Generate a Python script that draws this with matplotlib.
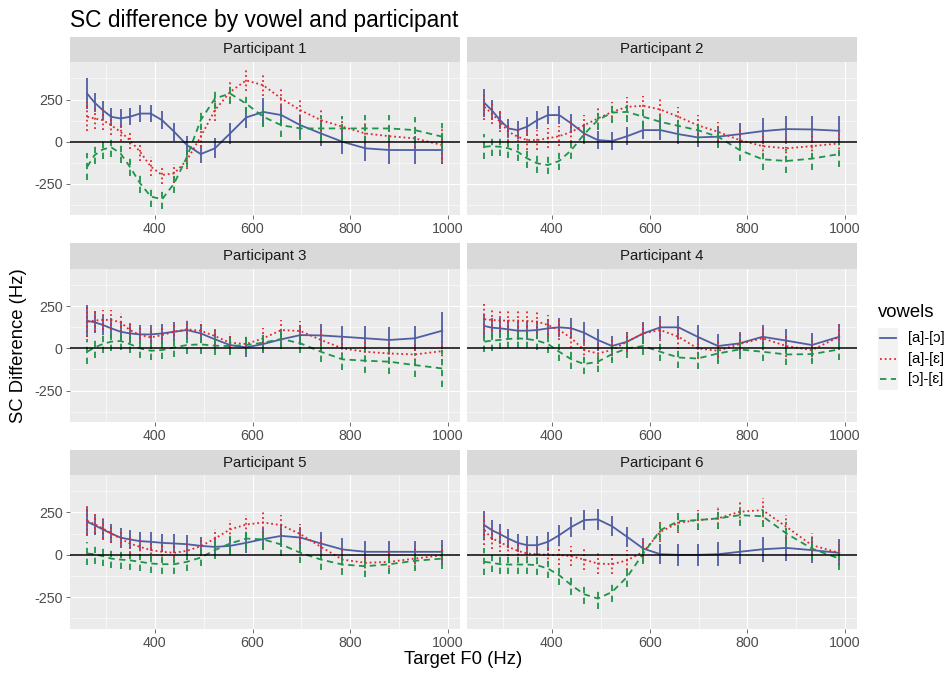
import matplotlib
matplotlib.use("Agg")
import matplotlib.pyplot as plt
from matplotlib.lines import Line2D
import numpy as np

plt.rcParams['font.family'] = ['Liberation Sans', 'DejaVu Sans']

# ---------------- data ----------------
f0 = [262, 277, 294, 311, 330, 349, 370, 392, 415, 440, 466, 494,
      523, 554, 587, 622, 659, 698, 740, 784, 831, 880, 932, 988]

series_labels = ["[a]-[ɔ]", "[a]-[ɛ]", "[ɔ]-[ɛ]"]
panel_titles = ["Participant 1", "Participant 2", "Participant 3",
                "Participant 4", "Participant 5", "Participant 6"]

# Participant 1
p1_ao = [285, 232, 187, 148, 138, 148, 167, 167, 128, 59, -20, -73,
         -39, 49, 144, 177, 158, 98, 49, 0, -39, -49, -49, -49]
p1_ae = [148, 138, 128, 98, 59, 10, -59, -148, -197, -187, -108, 30,
         187, 295, 364, 335, 256, 187, 128, 89, 49, 33, 20, -20]
p1_oe = [-148, -79, -45, -33, -69, -148, -246, -325, -341, -246, -89, 128,
         256, 286, 226, 148, 98, 79, 79, 79, 79, 79, 69, 30]
p1_ao_err = [90, 55, 55, 55, 55, 50, 50, 50, 55, 55, 55, 55, 60, 60, 60, 85, 60, 60, 75, 75, 75, 80, 85, 85]
p1_ae_err = [85, 60, 60, 60, 55, 55, 55, 55, 55, 55, 55, 60, 65, 65, 65, 65, 65, 65, 65, 60, 60, 60, 60, 110]
p1_oe_err = [80, 55, 55, 55, 55, 55, 60, 60, 60, 60, 60, 60, 60, 60, 60, 60, 70, 70, 75, 75, 80, 80, 80, 80]

# Participant 2
p2_ao = [230, 187, 128, 79, 69, 89, 128, 158, 158, 108, 49, 10,
         4, 33, 69, 69, 45, 26, 30, 45, 63, 75, 73, 65]
p2_ae = [207, 167, 118, 59, 30, 10, 10, 20, 33, 59, 98, 138,
         177, 207, 213, 191, 148, 98, 59, 10, -26, -39, -26, -10]
p2_oe = [-30, -26, -30, -39, -59, -98, -128, -138, -114, -49, 45, 128,
         173, 177, 148, 118, 94, 69, 30, -49, -104, -114, -100, -73]
p2_ao_err = [85, 60, 55, 55, 55, 55, 55, 55, 55, 55, 55, 55, 55, 55, 55, 60, 60, 60, 60, 65, 75, 75, 80, 85]
p2_ae_err = [80, 60, 60, 55, 55, 60, 60, 60, 60, 60, 60, 60, 60, 60, 60, 60, 60, 60, 60, 60, 60, 60, 60, 60]
p2_oe_err = [75, 60, 55, 55, 55, 55, 55, 55, 55, 55, 60, 60, 60, 60, 60, 60, 65, 65, 65, 65, 65, 70, 70, 75]

# Participant 3
p3_ao = [163, 155, 139, 119, 99, 89, 83, 83, 89, 99, 109, 89,
         54, 20, 6, 26, 54, 79, 77, 69, 60, 50, 60, 105]
p3_ae = [159, 165, 169, 169, 155, 109, 79, 65, 79, 99, 113, 105,
         73, 34, 26, 60, 109, 103, 50, 0, -20, -30, -36, -16]
p3_oe = [-20, 6, 26, 40, 44, 26, 0, -14, -10, 6, 20, 24,
         16, 14, 20, 34, 56, 30, -20, -65, -73, -79, -99, -119]
p3_ao_err = [95, 65, 60, 60, 55, 55, 55, 55, 55, 55, 55, 55, 55, 55, 55, 55, 55, 60, 65, 65, 70, 75, 75, 110]
p3_ae_err = [90, 65, 60, 60, 55, 55, 55, 55, 55, 55, 55, 55, 55, 55, 55, 60, 60, 60, 60, 60, 60, 60, 60, 60]
p3_oe_err = [75, 60, 55, 55, 55, 55, 55, 55, 55, 55, 55, 55, 55, 55, 55, 55, 60, 60, 60, 65, 70, 70, 70, 110]

# Participant 4
p4_ao = [133, 123, 119, 113, 105, 105, 109, 119, 125, 119, 93, 50,
         14, 40, 89, 125, 125, 69, 14, 30, 69, 46, 20, 69]
p4_ae = [173, 169, 165, 165, 165, 163, 159, 139, 109, 60, -10, -30,
         -10, 40, 89, 109, 69, 0, -14, 26, 60, 14, -10, 69]
p4_oe = [40, 46, 50, 56, 60, 56, 46, 26, -20, -65, -93, -79,
         -34, 0, 14, -20, -54, -60, -30, -6, -20, -36, -34, -6]
p4_ao_err = [70, 60, 60, 55, 55, 55, 55, 55, 55, 60, 65, 65, 60, 60, 65, 70, 70, 70, 70, 65, 70, 70, 70, 75]
p4_ae_err = [90, 65, 65, 65, 65, 65, 65, 60, 60, 60, 60, 60, 60, 60, 65, 65, 70, 65, 65, 65, 65, 65, 65, 80]
p4_oe_err = [60, 60, 55, 55, 55, 55, 55, 55, 55, 55, 60, 60, 55, 55, 55, 55, 60, 60, 60, 55, 55, 60, 60, 60]

# Participant 5
p5_ao = [195, 175, 150, 126, 102, 91, 81, 77, 71, 67, 63, 53,
         47, 53, 71, 93, 112, 102, 67, 32, 18, 18, 18, 18]
p5_ae = [201, 181, 156, 126, 96, 67, 47, 28, 18, 12, 24, 51,
         96, 150, 179, 191, 175, 122, 47, -28, -47, -41, -22, -2]
p5_oe = [8, 4, -8, -22, -28, -32, -41, -51, -55, -55, -41, -16,
         28, 67, 96, 91, 61, 12, -28, -57, -67, -55, -35, -22]
p5_ao_err = [85, 60, 60, 55, 55, 55, 55, 55, 55, 55, 55, 55, 55, 55, 60, 65, 65, 65, 65, 65, 65, 65, 65, 70]
p5_ae_err = [85, 60, 60, 55, 55, 55, 55, 55, 55, 55, 55, 55, 55, 55, 55, 60, 60, 60, 60, 60, 60, 60, 60, 60]
p5_oe_err = [70, 55, 55, 55, 55, 55, 55, 55, 55, 55, 55, 50, 50, 55, 60, 60, 65, 60, 60, 60, 65, 60, 60, 60]

# Participant 6
p6_ao = [175, 146, 122, 96, 71, 57, 57, 77, 116, 165, 205, 209,
         169, 106, 37, 4, 0, 0, 4, 18, 33, 41, 28, 12]
p6_ae = [146, 96, 77, 47, 24, 8, 4, 0, 0, -8, -28, -51,
         -55, -32, 18, 136, 189, 205, 215, 254, 264, 165, 57, 12]
p6_oe = [-41, -47, -55, -57, -57, -57, -61, -81, -120, -179, -232, -258,
         -219, -130, 8, 146, 199, 205, 215, 234, 228, 126, 37, -22]
p6_ao_err = [85, 60, 60, 55, 55, 55, 55, 55, 60, 60, 60, 60, 60, 60, 60, 60, 65, 65, 70, 70, 75, 75, 75, 80]
p6_ae_err = [85, 60, 60, 55, 55, 55, 55, 55, 60, 60, 60, 60, 60, 60, 60, 60, 60, 60, 65, 65, 70, 70, 70, 70]
p6_oe_err = [80, 55, 55, 55, 55, 55, 55, 55, 60, 60, 60, 60, 60, 60, 60, 60, 60, 60, 65, 65, 65, 65, 65, 70]

panels = [
    (p1_ao, p1_ae, p1_oe, p1_ao_err, p1_ae_err, p1_oe_err),
    (p2_ao, p2_ae, p2_oe, p2_ao_err, p2_ae_err, p2_oe_err),
    (p3_ao, p3_ae, p3_oe, p3_ao_err, p3_ae_err, p3_oe_err),
    (p4_ao, p4_ae, p4_oe, p4_ao_err, p4_ae_err, p4_oe_err),
    (p5_ao, p5_ae, p5_oe, p5_ao_err, p5_ae_err, p5_oe_err),
    (p6_ao, p6_ae, p6_oe, p6_ao_err, p6_ae_err, p6_oe_err),
]

x_ticks = [400, 600, 800, 1000]
y_ticks = [-250, 0, 250]

# ---------------- style ----------------
colors = ["#4F5DA3", "#E0262A", "#1E9448"]
styles = ["solid", (0, (1.0, 1.6)), (0, (3.5, 2.5))]
LW = 1.3

W, H = 952, 677
fig = plt.figure(figsize=(W / 100, H / 100), dpi=100)
fig.patch.set_facecolor("white")


def rect(x0, y0, x1, y1):
    return [x0 / W, 1 - y1 / H, (x1 - x0) / W, (y1 - y0) / H]


cols = [(69.5, 460.0), (466.7, 857.0)]
rows = [(62.3, 215.3), (269.0, 421.9), (475.0, 628.8)]
strips = [(36.7, 62.3), (243.3, 269.0), (450.0, 475.0)]

for i, pdata in enumerate(panels):
    r, c = divmod(i, 2)
    x0, x1 = cols[c]
    y0, y1 = rows[r]
    ax = fig.add_axes(rect(x0, y0, x1, y1))
    ax.set_facecolor("#EBEBEB")
    ax.set_xlim(225.7, 1024.3)
    ax.set_ylim(-436, 471)
    for s in ax.spines.values():
        s.set_visible(False)
    ax.set_xticks(x_ticks)
    ax.set_xticks([300, 500, 700, 900], minor=True)
    ax.set_yticks(y_ticks)
    ax.set_yticks([-375, -125, 125, 375], minor=True)
    ax.grid(which="major", color="white", lw=0.8)
    ax.grid(which="minor", color="white", lw=0.4)
    ax.set_axisbelow(True)
    ax.tick_params(which="major", length=2.9, width=0.5, color="#333333",
                   labelcolor="#4D4D4D", labelsize=10.3, pad=2.0)
    ax.tick_params(which="minor", length=0)
    ax.set_xticklabels([str(v) for v in x_ticks])
    if c == 0:
        ax.set_yticklabels([str(v) for v in y_ticks])
    else:
        ax.tick_params(axis="y", which="both", length=0, labelleft=False)

    means = pdata[:3]
    errs = pdata[3:]
    for k in range(3):
        m = np.array(means[k], dtype=float)
        e = np.array(errs[k], dtype=float)
        ax.plot(f0, m, color=colors[k], lw=LW, linestyle=styles[k], zorder=2)
        ax.vlines(f0, m - e, m + e, colors=colors[k], lw=LW,
                  linestyles=[styles[k]], zorder=2)
    ax.axhline(0, color="black", lw=1.1, zorder=3)

    # strip
    sy0, sy1 = strips[r]
    sax = fig.add_axes(rect(x0, sy0, x1, sy1))
    sax.set_facecolor("#D9D9D9")
    for s in sax.spines.values():
        s.set_visible(False)
    sax.set_xticks([])
    sax.set_yticks([])
    sax.text(0.5, 0.5, panel_titles[i], ha="center", va="center",
             fontsize=10.8, color="#1A1A1A", transform=sax.transAxes)

# titles
fig.text(70 / W, 1 - 26.7 / H, "SC difference by vowel and participant",
         fontsize=16.4, color="black", ha="left", va="baseline")
fig.text(463.5 / W, 1 - 660 / H, "Target F0 (Hz)", fontsize=13.3,
         ha="center", va="center")
fig.text(18.3 / W, 1 - 346 / H, "SC Difference (Hz)", fontsize=13.3,
         ha="center", va="center", rotation=90)

# legend
fig.text(877.7 / W, 1 - 316.7 / H, "vowels", fontsize=13.3, ha="left",
         va="baseline")
kax = fig.add_axes(rect(877.7, 327.5, 897.7, 390.0))
kax.set_facecolor("#F2F2F2")
for s in kax.spines.values():
    s.set_visible(False)
kax.set_xticks([])
kax.set_yticks([])
key_y = [338.3, 359.3, 379.3]
for k in range(3):
    yy = 1 - key_y[k] / H
    fig.add_artist(Line2D([879.5 / W, 896 / W], [yy, yy], color=colors[k],
                          lw=LW, linestyle=styles[k]))
    fig.text(908.3 / W, yy, series_labels[k], fontsize=10.7, color="black",
             ha="left", va="center")

fig.savefig("out.png", dpi=100, facecolor="white")
